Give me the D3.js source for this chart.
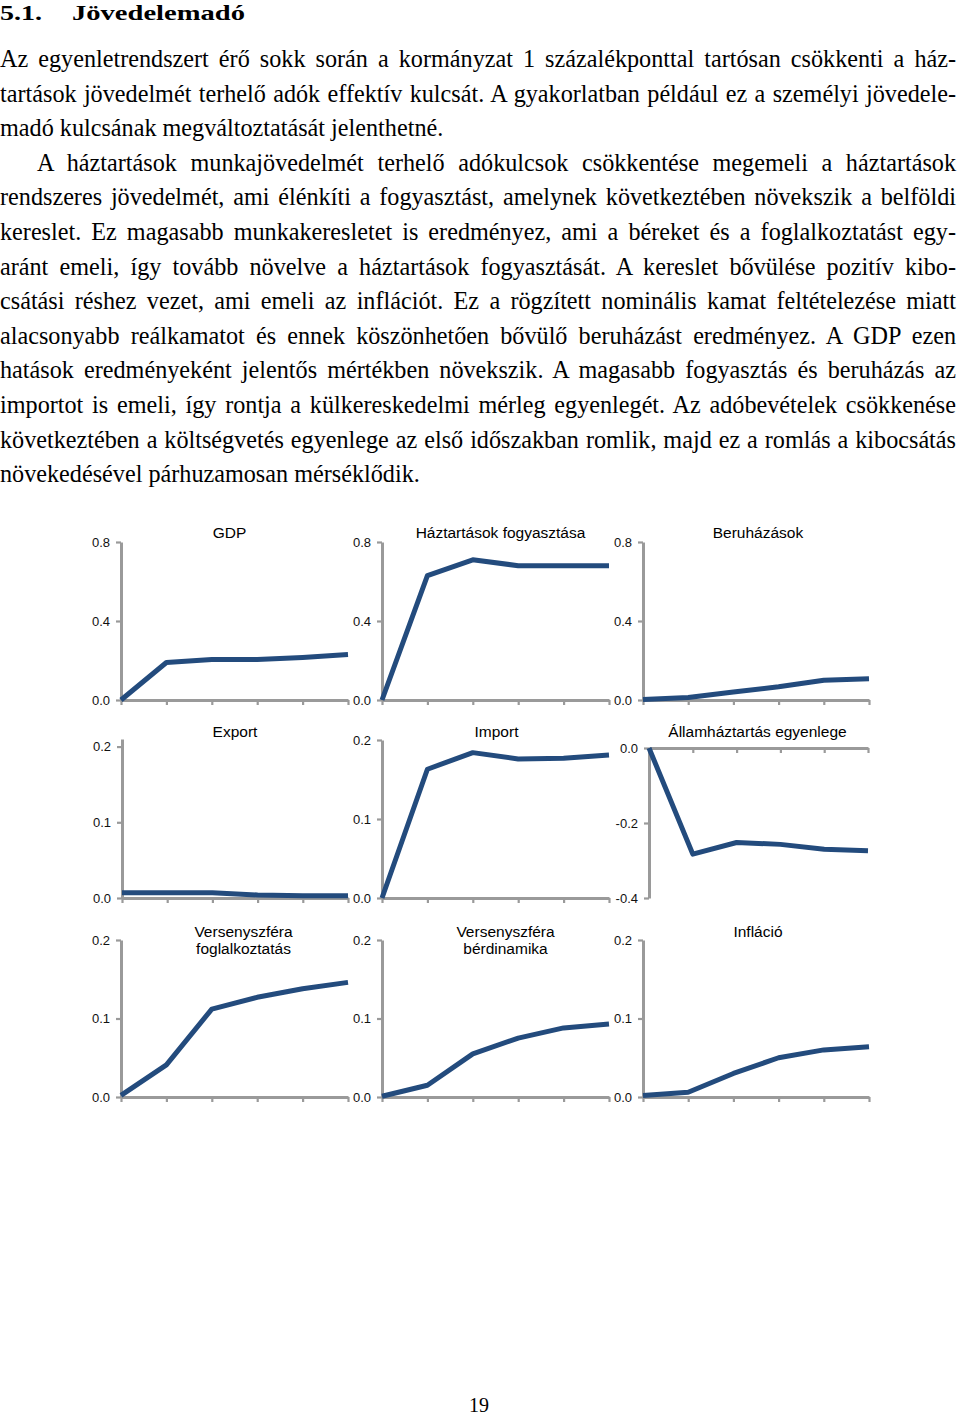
<!DOCTYPE html>
<html>
<head>
<meta charset="utf-8">
<script src="https://cdn.jsdelivr.net/npm/d3@7"></script>
<style>
  html, body { margin: 0; padding: 0; background: #fff; }
  svg { display: block; }
</style>
</head>
<body>
<div id="page"></div>
<script>
// ---------------- DATA ----------------
const periods = [0, 1, 2, 3, 4, 5];

const panelTitles = [
  ["GDP"],
  ["Háztartások fogyasztása"],
  ["Beruházások"],
  ["Export"],
  ["Import"],
  ["Államháztartás egyenlege"],
  ["Versenyszféra", "foglalkoztatás"],
  ["Versenyszféra", "bérdinamika"],
  ["Infláció"]
];

const gdp         = [0.000, 0.190, 0.205, 0.205, 0.215, 0.230];
const consumption = [0.000, 0.630, 0.710, 0.680, 0.680, 0.680];
const investment  = [0.003, 0.013, 0.040, 0.067, 0.100, 0.108];
const exportVals  = [0.007, 0.007, 0.007, 0.004, 0.003, 0.003];
const importVals  = [0.000, 0.163, 0.184, 0.176, 0.177, 0.181];
const govBalance  = [0.000, -0.283, -0.252, -0.257, -0.270, -0.274];
const employment  = [0.002, 0.041, 0.112, 0.127, 0.138, 0.146];
const wages       = [0.001, 0.015, 0.055, 0.075, 0.088, 0.093];
const inflation   = [0.002, 0.006, 0.030, 0.050, 0.060, 0.064];

const seriesList = [gdp, consumption, investment, exportVals, importVals, govBalance, employment, wages, inflation];

const ticksLarge = [0, 0.4, 0.8];
const ticksSmall = [0, 0.1, 0.2];
const ticksGov   = [-0.4, -0.2, 0];

const yDomains = [
  [0, 0.8], [0, 0.8], [0, 0.8],
  [0, 0.21], [0, 0.2], [-0.4, 0],
  [0, 0.2], [0, 0.2], [0, 0.2]
];
const yTicks = [ticksLarge, ticksLarge, ticksLarge, ticksSmall, ticksSmall, ticksGov, ticksSmall, ticksSmall, ticksSmall];

const heading = ["5.1.", "Jövedelemadó"];
const paragraphs = [
  [
    "Az egyenletrendszert érő sokk során a kormányzat 1 százalékponttal tartósan csökkenti a ház-",
    "tartások jövedelmét terhelő adók effektív kulcsát. A gyakorlatban például ez a személyi jövedele-",
    "madó kulcsának megváltoztatását jelenthetné."
  ],
  [
    "A háztartások munkajövedelmét terhelő adókulcsok csökkentése megemeli a háztartások",
    "rendszeres jövedelmét, ami élénkíti a fogyasztást, amelynek következtében növekszik a belföldi",
    "kereslet. Ez magasabb munkakeresletet is eredményez, ami a béreket és a foglalkoztatást egy-",
    "aránt emeli, így tovább növelve a háztartások fogyasztását. A kereslet bővülése pozitív kibo-",
    "csátási réshez vezet, ami emeli az inflációt. Ez a rögzített nominális kamat feltételezése miatt",
    "alacsonyabb reálkamatot és ennek köszönhetően bővülő beruházást eredményez. A GDP ezen",
    "hatások eredményeként jelentős mértékben növekszik. A magasabb fogyasztás és beruházás az",
    "importot is emeli, így rontja a külkereskedelmi mérleg egyenlegét. Az adóbevételek csökkenése",
    "következtében a költségvetés egyenlege az első időszakban romlik, majd ez a romlás a kibocsátás",
    "növekedésével párhuzamosan mérséklődik."
  ]
];
const pageNumber = "19";

// ---------------- LAYOUT ----------------
const W = 960, H = 1418;
const svg = d3.select("#page").append("svg").attr("width", W).attr("height", H);
svg.append("rect").attr("width", W).attr("height", H).attr("fill", "#fff");

const serif = "'Liberation Serif', 'Times New Roman', serif";
const sans = "'Liberation Sans', Arial, sans-serif";

// Heading
const hg = svg.append("g").attr("font-family", serif).attr("font-weight", "bold").attr("font-size", 22).attr("fill", "#000");
hg.append("text").attr("x", 0).attr("y", 20).attr("textLength", 42).attr("lengthAdjust", "spacingAndGlyphs").text(heading[0]);
hg.append("text").attr("x", 72).attr("y", 20).attr("textLength", 173).attr("lengthAdjust", "spacingAndGlyphs").text(heading[1]);

// Body text: font size calibrated on the final (unjustified) line width
const textG = svg.append("g").attr("font-family", serif).attr("fill", "#000");
let fs = 22;
{
  const probe = textG.append("text").attr("font-size", fs).text(paragraphs[1][paragraphs[1].length - 1]);
  const w = probe.node().getComputedTextLength();
  fs = fs * 420 / w;
  probe.remove();
}
textG.attr("font-size", fs);
const lineH = 34.6, firstBase = 67, rightEdge = 956, indent = 37;
let lineIdx = 0;
paragraphs.forEach((para, pi) => {
  para.forEach((line, li) => {
    const x0 = (pi > 0 && li === 0) ? indent : 0;
    const t = textG.append("text").attr("x", x0).attr("y", firstBase + lineIdx * lineH).text(line);
    const isLast = li === para.length - 1;
    if (!isLast) {
      const w = t.node().getComputedTextLength();
      const spaces = (line.match(/ /g) || []).length;
      t.attr("word-spacing", (rightEdge - x0 - w) / spaces);
    }
    lineIdx++;
  });
});

// Page number
svg.append("text").attr("x", 479).attr("y", 1412).attr("text-anchor", "middle")
  .attr("font-family", serif).attr("font-size", 20).attr("fill", "#000").text(pageNumber);

// Chart panels
const plots = [
  {l: 121, r: 348, t: 542, b: 700, dx: -5},
  {l: 382, r: 609, t: 542, b: 700, dx: 5},
  {l: 643, r: 869, t: 542, b: 700, dx: 2},
  {l: 122, r: 348, t: 739, b: 898, dx: 0},
  {l: 382, r: 609, t: 740, b: 898, dx: 1},
  {l: 649, r: 868, t: 748, b: 898, dx: -1},
  {l: 121, r: 348, t: 940, b: 1097, dx: 9},
  {l: 382, r: 609, t: 940, b: 1097, dx: 10},
  {l: 643, r: 869, t: 940, b: 1097, dx: 2}
];
const titleBase = [538, 538, 538, 737, 737, 737, 937, 937, 937];
const axisColor = "#9a9a9a";
const lineColor = "#234b7d";

plots.forEach((p, i) => {
  const g = svg.append("g");
  const x = d3.scalePoint().domain(periods).range([p.l, p.r]);
  const y = d3.scaleLinear().domain(yDomains[i]).range([p.b, p.t]);

  // x axis at value 0
  const xAxis = d3.axisBottom(x).tickSize(5).tickSizeOuter(0).tickFormat("");
  const xg = g.append("g").attr("transform", `translate(0,${y(0)})`).call(xAxis);
  xg.select(".domain").attr("stroke", axisColor).attr("stroke-width", 3);
  xg.selectAll(".tick line").attr("stroke", axisColor).attr("stroke-width", 2.2);

  // y axis
  const yAxis = d3.axisLeft(y).tickValues(yTicks[i]).tickSize(5).tickSizeOuter(0).tickPadding(6)
    .tickFormat(d => d.toFixed(1));
  const yg = g.append("g").attr("transform", `translate(${p.l},0)`).call(yAxis);
  yg.select(".domain").attr("stroke", axisColor).attr("stroke-width", 3);
  yg.selectAll(".tick line").attr("stroke", axisColor).attr("stroke-width", 2.2);
  yg.selectAll(".tick text").attr("font-family", sans).attr("font-size", 13).attr("fill", "#111");

  // line
  const line = d3.line().x((d, k) => x(periods[k])).y(d => y(d));
  g.append("path").datum(seriesList[i]).attr("d", line)
    .attr("fill", "none").attr("stroke", lineColor).attr("stroke-width", 5)
    .attr("stroke-linejoin", "round");

  // title
  const tt = g.append("text").attr("text-anchor", "middle").attr("font-family", sans)
    .attr("font-size", 15.5).attr("fill", "#000");
  panelTitles[i].forEach((s, k) => {
    tt.append("tspan").attr("x", (p.l + p.r) / 2 + p.dx).attr("y", titleBase[i] + k * 17).text(s);
  });
});
</script>
</body>
</html>
